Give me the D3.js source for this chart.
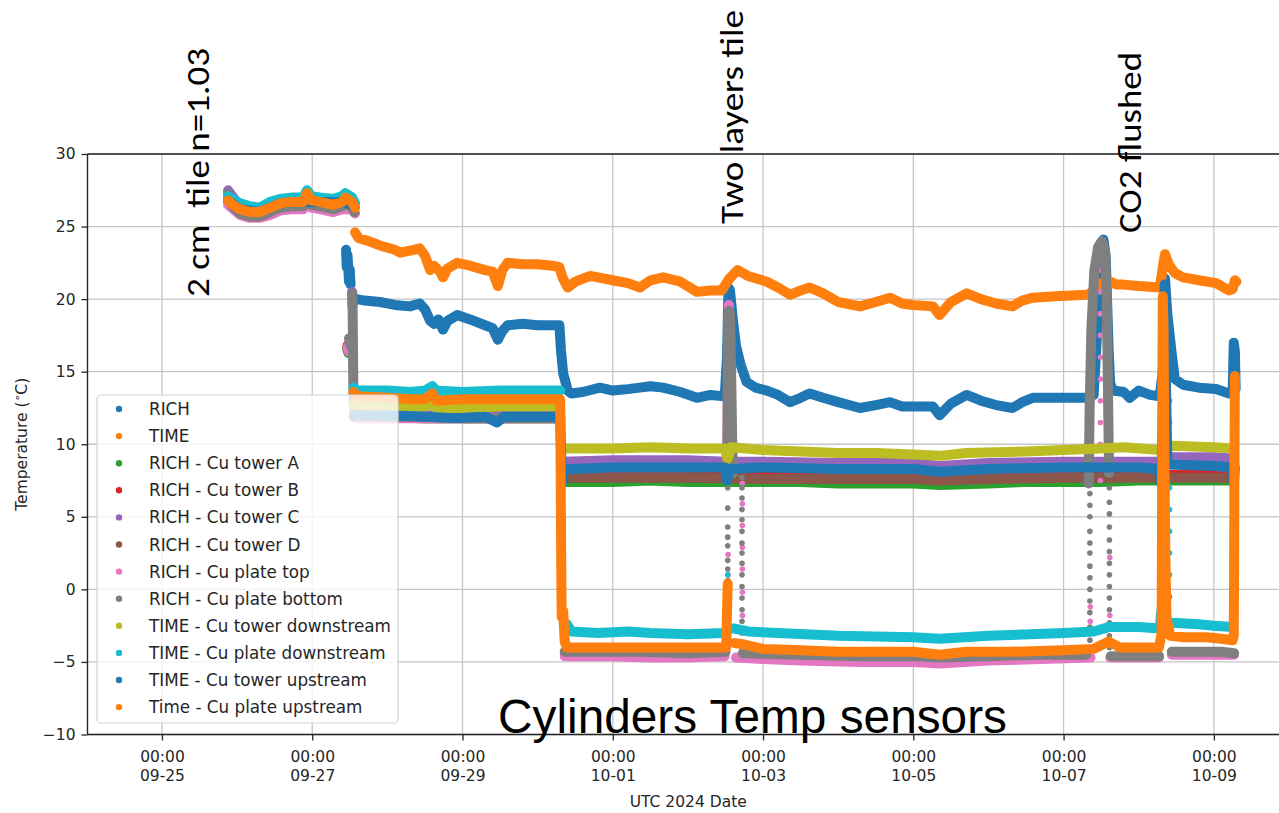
<!DOCTYPE html>
<html><head><meta charset="utf-8">
<script src="https://cdn.jsdelivr.net/npm/d3@7"></script>
<style>body{margin:0;background:#fff}</style>
</head><body>
<svg id="chart" width="1279" height="813"></svg>
<script>
// ---------- DATA (day offset from 2024-09-25 00:00 UTC, temperature °C) ----------
const seriesNames = ["RICH","TIME","RICH - Cu tower A","RICH - Cu tower B","RICH - Cu tower C","RICH - Cu tower D",
  "RICH - Cu plate top","RICH - Cu plate bottom","TIME - Cu tower downstream","TIME - Cu plate downstream",
  "TIME - Cu tower upstream","Time - Cu plate upstream"];
const seriesColors = ["#1f77b4","#ff7f0e","#2ca02c","#d62728","#9467bd","#8c564b","#e377c2","#7f7f7f","#bcbd22","#17becf","#1f77b4","#ff7f0e"];
const yTickValues = [-10,-5,0,5,10,15,20,25,30];
const xTickDays = [0,2,4,6,8,10,12,14];
const xTickDates = ["09-25","09-27","09-29","10-01","10-03","10-05","10-07","10-09"];
const xTickTimes = ["00:00","00:00","00:00","00:00","00:00","00:00","00:00","00:00"];

const richTemp = [[0.88,26.8],[1.04,26.2],[1.30,26.0],[1.57,26.6],[1.88,26.7],[2.10,26.7],[2.40,26.7],[2.55,26.4],null,
 [2.45,23.4],[2.46,22.2],[2.47,23.0],[2.49,21.2],[2.50,22.0],[2.51,21.0],null,
 [2.59,20.0],[2.7,19.9],[2.9,19.8],[3.1,19.6],[3.3,19.5],[3.43,19.7],[3.5,19.3],[3.57,18.5],[3.62,18.3],[3.68,18.6],[3.74,17.9],[3.8,18.5],[3.93,18.9],[4.1,18.6],[4.3,18.2],[4.4,18.0],[4.47,17.2],[4.53,17.8],[4.6,18.2],[4.8,18.3],[5.0,18.2],[5.29,18.2],[5.31,16.5],[5.34,14.9],[5.4,13.7],[5.45,13.5],[5.6,13.6],[5.83,13.9],[6.0,13.7],[6.2,13.8],[6.36,13.9],[6.5,14.0],[6.67,13.9],[6.9,13.6],[7.12,13.2],[7.3,13.4],[7.49,13.3],[7.52,16.0],[7.54,20.8],[7.56,20.6],[7.6,18.5],[7.64,16.8],[7.7,15.5],[7.78,14.3],[7.9,13.9],[8.05,13.7],[8.2,13.4],[8.36,12.9],[8.5,13.2],[8.62,13.5],[8.8,13.2],[9.0,12.9],[9.29,12.5],[9.5,12.7],[9.69,12.9],[9.85,12.6],[10.26,12.6],[10.35,12.0],[10.5,12.8],[10.71,13.4],[10.9,13.0],[11.1,12.7],[11.32,12.5],[11.45,12.9],[11.59,13.2],[12.31,13.2],[12.4,13.4],[12.45,18.0],[12.5,23.5],[12.53,24.1],[12.56,23.0],[12.6,16.5],[12.62,14.2],[12.66,13.7],[12.8,13.6],[12.88,13.2],[13.0,13.7],[13.15,13.4],[13.28,13.3],[13.32,15.0],[13.35,21.4],[13.38,19.0],[13.44,16.2],[13.48,14.5],[13.59,14.1],[13.8,13.9],[14.03,13.8],[14.2,13.5],[14.25,13.6],[14.265,17.0],[14.28,16.4],[14.29,13.8]];

const timeTemp = [[0.88,26.8],[1.04,26.2],[1.30,26.0],[1.57,26.6],[1.88,26.7],[2.10,26.7],[2.40,26.7],[2.55,26.4],null,
 [2.57,24.6],[2.62,24.2],[2.75,24.0],[2.9,23.7],[3.1,23.4],[3.17,23.2],[3.35,23.4],[3.43,23.5],[3.5,23.0],[3.57,22.0],[3.62,22.3],[3.7,21.9],[3.74,21.5],[3.8,22.1],[3.93,22.5],[4.1,22.3],[4.3,22.0],[4.4,21.9],[4.47,20.9],[4.53,22.0],[4.6,22.5],[4.8,22.4],[5.0,22.4],[5.2,22.3],[5.29,22.2],[5.33,21.5],[5.40,20.8],[5.5,21.2],[5.7,21.6],[6.0,21.3],[6.2,21.1],[6.36,20.8],[6.5,21.3],[6.67,21.5],[6.9,21.2],[7.12,20.5],[7.3,20.6],[7.45,20.6],[7.55,21.4],[7.66,22.0],[7.8,21.6],[8.05,21.2],[8.2,20.8],[8.36,20.3],[8.5,20.6],[8.62,20.8],[8.8,20.4],[9.0,19.8],[9.29,19.5],[9.5,19.8],[9.69,20.1],[9.85,19.7],[9.99,19.6],[10.26,19.5],[10.35,18.9],[10.5,19.8],[10.71,20.4],[10.9,20.0],[11.1,19.7],[11.32,19.5],[11.45,19.9],[11.59,20.1],[11.9,20.2],[12.31,20.3],[12.39,20.5],[12.5,21.1],[12.58,21.3],[12.7,21.0],[12.8,21.0],[13.0,20.9],[13.28,20.8],[13.33,22.5],[13.35,23.1],[13.4,22.4],[13.48,21.8],[13.59,21.5],[13.8,21.3],[14.03,21.1],[14.2,20.6],[14.25,20.7],[14.28,21.3],[14.3,21.2]];

const towerA = [[0.88,26.8],[1.04,26.2],[1.30,26.0],[1.57,26.6],[1.88,26.7],[2.10,26.7],[2.40,26.7],[2.55,26.4],null,
 [2.465,16.6],[2.48,16.3],null,
 [2.56,11.9],[3.5,11.8],[4.5,11.8],[5.30,11.8],null,
 [5.34,7.4],[6.0,7.4],[6.5,7.5],[7.0,7.4],[7.5,7.4],[8.0,7.4],[8.5,7.4],[9.0,7.3],[9.5,7.3],[10.0,7.3],[10.35,7.2],[11.0,7.3],[11.5,7.4],[12.0,7.4],[12.5,7.4],[13.0,7.5],[13.5,7.5],[14.0,7.5],[14.27,7.5]];

const towerB = [[0.88,26.8],[1.04,26.2],[1.30,26.0],[1.57,26.6],[1.88,26.7],[2.10,26.7],[2.40,26.7],[2.55,26.4],null,
 [2.47,16.8],[2.485,16.5],null,
 [2.56,11.9],[3.5,11.9],[4.5,11.9],[5.30,11.9],null,
 [5.34,7.9],[6.0,7.9],[7.0,7.9],[8.0,7.9],[9.0,7.8],[10.0,7.8],[11.0,7.8],[12.0,7.9],[13.0,7.9],[14.27,7.9]];

const towerC = [[0.88,27.5],[0.92,27.2],[1.04,26.4],[1.17,26.1],[1.30,26.1],[1.57,26.7],[1.88,26.8],[1.93,27.3],[2.10,26.8],[2.40,26.8],[2.55,26.5],null,
 [2.53,20.5],[2.535,19.5],null,
 [2.56,12.1],[3.5,12.0],[4.5,12.0],[5.30,12.0],null,
 [5.34,8.8],[6.0,8.9],[7.0,8.9],[7.5,8.8],[8.0,8.8],[9.0,8.7],[10.0,8.7],[10.35,8.5],[11.0,8.7],[12.0,8.8],[13.0,8.8],[13.28,8.8],[13.45,9.1],[14.0,9.1],[14.27,9.0]];

const towerD = [[0.88,26.8],[1.04,26.2],[1.30,26.0],[1.57,26.6],[1.88,26.7],[2.10,26.7],[2.40,26.7],[2.55,26.4],null,
 [2.47,16.6],[2.49,16.4],null,
 [2.56,11.9],[3.5,11.8],[4.5,11.8],[5.30,11.8],null,
 [5.34,7.7],[6.0,7.7],[7.0,7.7],[8.0,7.6],[9.0,7.6],[10.0,7.6],[10.35,7.5],[11.0,7.6],[12.0,7.7],[13.0,7.7],[13.45,7.7],[14.27,7.7]];

const plateTop = [[0.88,26.5],[1.04,25.8],[1.17,25.6],[1.30,25.6],[1.44,25.8],[1.57,26.1],[1.74,26.2],[1.88,26.2],[1.93,26.7],[1.99,26.3],[2.10,26.2],[2.28,26.0],[2.40,26.2],[2.53,26.2],[2.57,25.9],null,
 [2.47,16.7],[2.485,16.4],null,
 [2.56,12.3],[2.6,11.8],[3.5,11.8],[4.5,11.8],[5.30,11.8],null,
 [5.36,-4.6],[6.0,-4.6],[6.5,-4.7],[7.0,-4.7],[7.49,-4.6],null,
 [7.52,8.0],[7.545,19.6],[7.58,8.0],null,
 [7.64,-4.7],[8.0,-4.8],[8.5,-4.9],[9.29,-5.0],[10.0,-5.0],[10.35,-5.1],[11.0,-4.9],[11.7,-4.8],[12.36,-4.7],null,
 [12.62,-4.7],[13.0,-4.7],[13.27,-4.7],null,
 [13.44,-4.5],[14.27,-4.5]];
const plateTopDots = [[7.725,7.3],[7.725,5.9],[7.725,4.4],[7.725,2.9],[7.725,1.4],[7.725,-0.2],[7.725,-1.8],[7.535,2.4],[7.535,1.0],
 [12.49,22.0],[12.49,20.5],[12.49,19.0],[12.49,17.5],[12.49,16.0],[12.49,14.5],[12.49,13.0],[12.49,11.5],[12.49,10.0],[12.49,8.5],[12.49,7.5],
 [12.355,-1.2],[12.355,-2.2],[12.615,2.2],[12.615,-1.8]];

const plateBottom = [[0.88,27.3],[0.94,26.4],[1.04,25.9],[1.17,25.7],[1.30,25.7],[1.44,26.0],[1.57,26.3],[1.74,26.4],[1.88,26.4],[1.93,26.9],[1.99,26.5],[2.10,26.4],[2.28,26.2],[2.40,26.4],[2.44,26.6],[2.53,26.4],[2.56,26.0],null,
 [2.49,17.3],[2.51,16.8],null,
 [2.535,20.4],[2.54,18.0],[2.545,15.0],[2.55,12.8],[2.58,12.0],[3.0,11.9],[3.5,11.9],[4.0,11.8],[4.5,11.8],[5.0,11.8],[5.30,11.8],null,
 [5.36,-4.3],[5.8,-4.3],[6.4,-4.3],[7.0,-4.4],[7.50,-4.3],null,
 [7.525,8.0],[7.53,14.0],[7.535,18.5],[7.545,19.2],[7.56,19.0],[7.575,15.0],[7.59,10.0],[7.6,8.0],null,
 [7.73,-4.4],[8.5,-4.5],[9.3,-4.6],[10.0,-4.6],[10.35,-4.7],[11.0,-4.6],[11.7,-4.5],[12.30,-4.5],null,
 [12.335,7.3],[12.345,12.0],[12.37,18.0],[12.41,22.0],[12.46,23.6],[12.51,24.0],[12.55,23.4],[12.575,20.0],[12.59,14.0],[12.605,8.0],null,
 [12.63,-4.6],[13.0,-4.6],[13.27,-4.6],null,
 [13.44,-4.3],[13.8,-4.3],[14.1,-4.3],[14.27,-4.4]];
const plateBottomDots = [[5.315,9.5],[5.315,6.5],[5.315,3.5],[5.315,0.5],[5.32,-2.5],
 [7.53,7.0],[7.53,5.6],[7.53,4.3],[7.53,3.6],[7.53,3.0],[7.53,2.0],[7.53,1.4],[7.53,0.6],
 [7.72,7.7],[7.72,7.0],[7.72,6.3],[7.72,5.5],[7.72,4.8],[7.72,4.0],[7.72,3.2],[7.72,2.5],[7.72,1.8],[7.72,1.0],[7.72,0.2],[7.72,-0.6],[7.72,-1.4],[7.72,-2.2],[7.72,-3.0],[7.72,-3.7],
 [12.35,6.6],[12.35,5.8],[12.35,5.0],[12.35,4.0],[12.35,3.2],[12.35,2.5],[12.35,1.6],[12.35,0.8],[12.35,0.0],[12.35,-0.8],[12.35,-1.6],[12.35,-2.6],[12.35,-3.5],
 [12.61,7.0],[12.61,6.0],[12.61,5.2],[12.61,4.3],[12.61,3.4],[12.61,2.6],[12.61,1.8],[12.61,1.0],[12.61,0.2],[12.61,-0.6],[12.61,-1.4],[12.61,-2.3],[12.61,-3.2],[12.61,-4.0],
 [13.33,3.9],[13.33,2.8],[13.33,1.7]];

const towerDown = [[0.88,26.8],[1.04,26.2],[1.30,26.0],[1.57,26.6],[1.88,26.7],[2.10,26.7],[2.40,26.7],[2.55,26.4],null,
 [2.55,12.7],[3.0,12.6],[3.5,12.6],[3.6,12.8],[3.65,12.5],[4.0,12.5],[4.5,12.6],[5.0,12.6],[5.30,12.6],null,
 [5.36,9.7],[5.6,9.7],[6.0,9.7],[6.5,9.8],[7.0,9.7],[7.49,9.7],[7.53,9.0],[7.58,9.8],[8.0,9.6],[8.5,9.5],[9.0,9.4],[9.5,9.4],[10.0,9.3],[10.35,9.2],[10.7,9.4],[11.5,9.5],[12.0,9.6],[12.5,9.7],[12.8,9.8],[13.28,9.6],[13.45,9.9],[14.0,9.8],[14.27,9.7]];

const plateDown = [[0.88,27.1],[0.94,26.9],[1.04,26.6],[1.17,26.4],[1.30,26.3],[1.44,26.7],[1.57,26.9],[1.74,27.0],[1.88,27.0],[1.93,27.5],[1.99,27.1],[2.10,27.0],[2.28,26.9],[2.40,27.1],[2.44,27.3],[2.53,27.0],[2.57,26.6],null,
 [2.55,13.9],[2.6,13.7],[3.0,13.7],[3.3,13.6],[3.5,13.7],[3.6,14.0],[3.65,13.7],[4.0,13.6],[4.5,13.7],[5.0,13.7],[5.30,13.7],null,
 [5.39,-2.4],[5.45,-2.9],[5.8,-3.0],[6.2,-2.9],[6.5,-3.0],[7.0,-3.1],[7.49,-3.0],[7.55,-2.7],[7.62,-2.7],[7.8,-2.9],[8.2,-3.0],[9.0,-3.2],[10.0,-3.3],[10.35,-3.4],[11.0,-3.2],[12.0,-3.0],[12.4,-2.9],[12.6,-2.6],[13.0,-2.6],[13.28,-2.7],[13.3,-1.5],null,
 [13.44,-2.3],[13.8,-2.4],[14.0,-2.5],[14.25,-2.6]];
const plateDownDots = [[5.315,6.0],[5.315,5.0],[5.315,2.0],[5.315,-0.1],[5.32,-0.8],[7.53,1.0],
 [13.41,13.0],[13.41,11.5],[13.41,10.0],[13.41,8.5],[13.41,7.0],[13.41,5.5],[13.41,4.0],[13.41,2.5],[13.41,1.0],[13.41,-0.5],
 [14.262,-1.5],[14.262,0.0],[14.262,1.5],[14.262,3.0],[14.262,4.5],[14.262,6.0],[14.262,7.5]];

const towerUp = [[0.88,26.8],[1.04,26.2],[1.30,26.0],[1.57,26.6],[1.88,26.7],[2.10,26.7],[2.40,26.7],[2.55,26.4],null,
 [2.55,12.0],[3.0,12.0],[3.5,11.9],[3.9,11.8],[4.3,11.9],[4.46,11.5],[4.55,11.9],[5.0,11.9],[5.30,11.9],[5.315,9.0],[5.33,7.4],[5.35,8.2],[5.45,8.3],[6.0,8.4],[7.0,8.4],[7.49,8.4],[7.52,7.5],[7.56,8.3],[8.0,8.4],[9.0,8.3],[10.0,8.3],[10.35,8.1],[11.0,8.3],[12.0,8.4],[12.3,8.4],[13.0,8.4],[13.26,8.3],[13.30,7.3],[13.32,12.0],[13.345,21.0],[13.36,15.0],[13.38,9.0],[13.42,8.6],[14.0,8.5],[14.25,8.4],[14.265,7.3],[14.28,8.4]];

const plateUp = [[0.88,26.8],[0.94,26.5],[1.04,26.2],[1.17,26.0],[1.30,26.0],[1.44,26.3],[1.57,26.6],[1.74,26.7],[1.88,26.7],[1.93,27.3],[1.99,26.8],[2.10,26.7],[2.28,26.5],[2.40,26.7],[2.44,27.0],[2.53,26.7],[2.57,26.3],null,
 [2.55,13.6],[2.6,13.3],[3.0,13.2],[3.3,13.1],[3.5,13.1],[3.6,13.5],[3.65,13.0],[4.0,13.1],[4.5,13.1],[5.0,13.1],[5.30,13.1],[5.305,9.0],[5.31,5.0],[5.315,1.0],[5.32,-1.9],[5.34,-1.5],[5.36,-3.6],[5.39,-4.0],[5.8,-4.0],[6.3,-4.0],[7.0,-4.0],[7.51,-4.0],[7.52,-1.5],[7.53,0.4],null,
 [7.62,-3.7],[7.75,-3.8],[8.0,-4.1],[8.5,-4.2],[9.0,-4.3],[9.5,-4.3],[10.0,-4.3],[10.35,-4.5],[10.7,-4.3],[11.3,-4.3],[12.0,-4.2],[12.4,-4.1],[12.6,-3.6],[12.75,-4.0],[13.0,-4.0],[13.27,-4.0],[13.305,-3.0],[13.31,5.0],[13.315,14.0],[13.32,20.2],[13.33,18.0],[13.34,10.0],[13.355,2.0],[13.37,-2.0],[13.42,-3.2],[13.6,-3.3],[13.9,-3.3],[14.1,-3.4],[14.25,-3.5],[14.265,-3.2],[14.27,2.0],[14.275,10.0],[14.28,14.7]];

const seriesLines = [richTemp,timeTemp,towerA,towerB,towerC,towerD,plateTop,plateBottom,towerDown,plateDown,towerUp,plateUp];
const seriesDots = [[],[],[],[],[],[],plateTopDots,plateBottomDots,[],plateDownDots,[],[]];

// ---------- DRAWING ----------
const svg = d3.select("#chart");
const W = 1279, H = 813;
const L = 87.5, R = 1289, T = 154, B = 734.5;
const day0 = Date.UTC(2024, 8, 25);
const toDate = d => new Date(day0 + d * 86400000);
const x = d3.scaleUtc().domain([toDate(-0.991), toDate(15.0)]).range([L, R]);
const y = d3.scaleLinear().domain([-10, 30]).range([B, T]);
const MPL = "'DejaVu Sans', sans-serif";
const INK = "#262626";

svg.append("rect").attr("width", W).attr("height", H).attr("fill", "#fff");
svg.append("defs").append("clipPath").attr("id", "clip")
  .append("rect").attr("x", L).attr("y", T).attr("width", R - L).attr("height", B - T);

// grid
const grid = svg.append("g");
grid.selectAll("line.h").data(yTickValues).join("line")
  .attr("x1", L).attr("x2", R).attr("y1", d => y(d)).attr("y2", d => y(d))
  .attr("stroke", "#c6c6c6").attr("stroke-width", 1.3);
grid.selectAll("line.v").data(xTickDays).join("line")
  .attr("y1", T).attr("y2", B).attr("x1", d => x(toDate(d))).attr("x2", d => x(toDate(d)))
  .attr("stroke", "#c6c6c6").attr("stroke-width", 1.3);

// data
const line = d3.line().defined(p => p !== null)
  .x(p => x(toDate(p[0]))).y(p => y(p[1]));
const plot = svg.append("g").attr("clip-path", "url(#clip)");
seriesLines.forEach((arr, i) => {
  plot.append("path").attr("d", line(arr)).attr("fill", "none")
    .attr("stroke", seriesColors[i]).attr("stroke-width", 10)
    .attr("stroke-linecap", "round").attr("stroke-linejoin", "round");
  plot.append("g").selectAll("circle").data(seriesDots[i]).join("circle")
    .attr("cx", p => x(toDate(p[0]))).attr("cy", p => y(p[1])).attr("r", 2.8)
    .attr("fill", seriesColors[i]);
});

// axes
const yAxis = d3.axisLeft(y).tickValues(yTickValues).tickSize(6).tickPadding(6).tickSizeOuter(0)
  .tickFormat(d => d < 0 ? "\u2212" + Math.abs(d) : String(d));
const gy = svg.append("g").attr("transform", `translate(${L},0)`).call(yAxis);
gy.select(".domain").remove();
gy.selectAll(".tick line").attr("stroke", INK).attr("stroke-width", 1.3);
gy.selectAll(".tick text").attr("font-family", MPL).attr("font-size", 15.5).attr("fill", INK);

const xAxis = d3.axisBottom(x).tickValues(xTickDays.map(toDate)).tickSize(6).tickSizeOuter(0).tickFormat(() => "");
const gx = svg.append("g").attr("transform", `translate(0,${B})`).call(xAxis);
gx.select(".domain").remove();
gx.selectAll(".tick line").attr("stroke", INK).attr("stroke-width", 1.3);
gx.selectAll(".tick text").each(function(d, i) {
  const t = d3.select(this).attr("y", null).attr("dy", null)
    .attr("font-family", MPL).attr("font-size", 15.5).attr("fill", INK);
  t.append("tspan").attr("x", 0).attr("y", 27).text(xTickTimes[i]);
  t.append("tspan").attr("x", 0).attr("y", 46).text(xTickDates[i]);
});

// spines
svg.append("line").attr("x1", L).attr("x2", L).attr("y1", T).attr("y2", B).attr("stroke", INK).attr("stroke-width", 1.4);
svg.append("line").attr("x1", L).attr("x2", R).attr("y1", B).attr("y2", B).attr("stroke", INK).attr("stroke-width", 1.4);
svg.append("line").attr("x1", L).attr("x2", R).attr("y1", T).attr("y2", T).attr("stroke", INK).attr("stroke-width", 1.4);

// axis labels
svg.append("text").attr("x", (L + R) / 2).attr("y", 807).attr("text-anchor", "middle")
  .attr("font-family", MPL).attr("font-size", 15.5).attr("fill", INK).text("UTC 2024 Date");
const yl = svg.append("text").attr("transform", `translate(27,${(T + B) / 2}) rotate(-90)`)
  .attr("text-anchor", "middle").attr("font-family", MPL).attr("font-size", 15.5).attr("fill", INK);
yl.append("tspan").text("Temperature (");
yl.append("tspan").attr("font-size", 11).attr("dy", -6).text("\u2218");
yl.append("tspan").attr("dy", 6).text("C)");

// legend
const lg = svg.append("g");
lg.append("rect").attr("x", 97).attr("y", 395).attr("width", 301).attr("height", 328).attr("rx", 4)
  .attr("fill", "#fff").attr("fill-opacity", 0.8).attr("stroke", "#d3d3d3").attr("stroke-width", 1.2);
const items = lg.selectAll("g.item").data(seriesNames).join("g")
  .attr("transform", (d, i) => `translate(0,${409 + i * 27.1})`);
items.append("circle").attr("cx", 119).attr("cy", 0).attr("r", 3.2).attr("fill", (d, i) => seriesColors[i]);
items.append("text").attr("x", 149).attr("y", 0).attr("dy", "0.36em")
  .attr("font-family", MPL).attr("font-size", 16.8).attr("fill", INK).text(d => d);

// annotations
const ANN = "Carlito, Lato, 'Open Sans', sans-serif";
function vtext(px, py, len, str) {
  svg.append("text").attr("transform", `translate(${px},${py}) rotate(-90)`)
    .attr("font-family", ANN).attr("font-size", 33).attr("fill", "#000")
    .style("white-space", "pre").attr("textLength", len).attr("lengthAdjust", "spacingAndGlyphs")
    .text(str);
}
vtext(209, 297, 249, "2 cm  tile n=1.03");
vtext(743, 224, 214, "Two layers tile");
vtext(1141, 233, 181, "CO2 flushed");
svg.append("text").attr("x", 498).attr("y", 733)
  .attr("font-family", "'Liberation Sans', Arial, sans-serif").attr("font-size", 47.5).attr("fill", "#000")
  .attr("textLength", 509).attr("lengthAdjust", "spacingAndGlyphs")
  .text("Cylinders Temp sensors");
</script>
</body></html>
